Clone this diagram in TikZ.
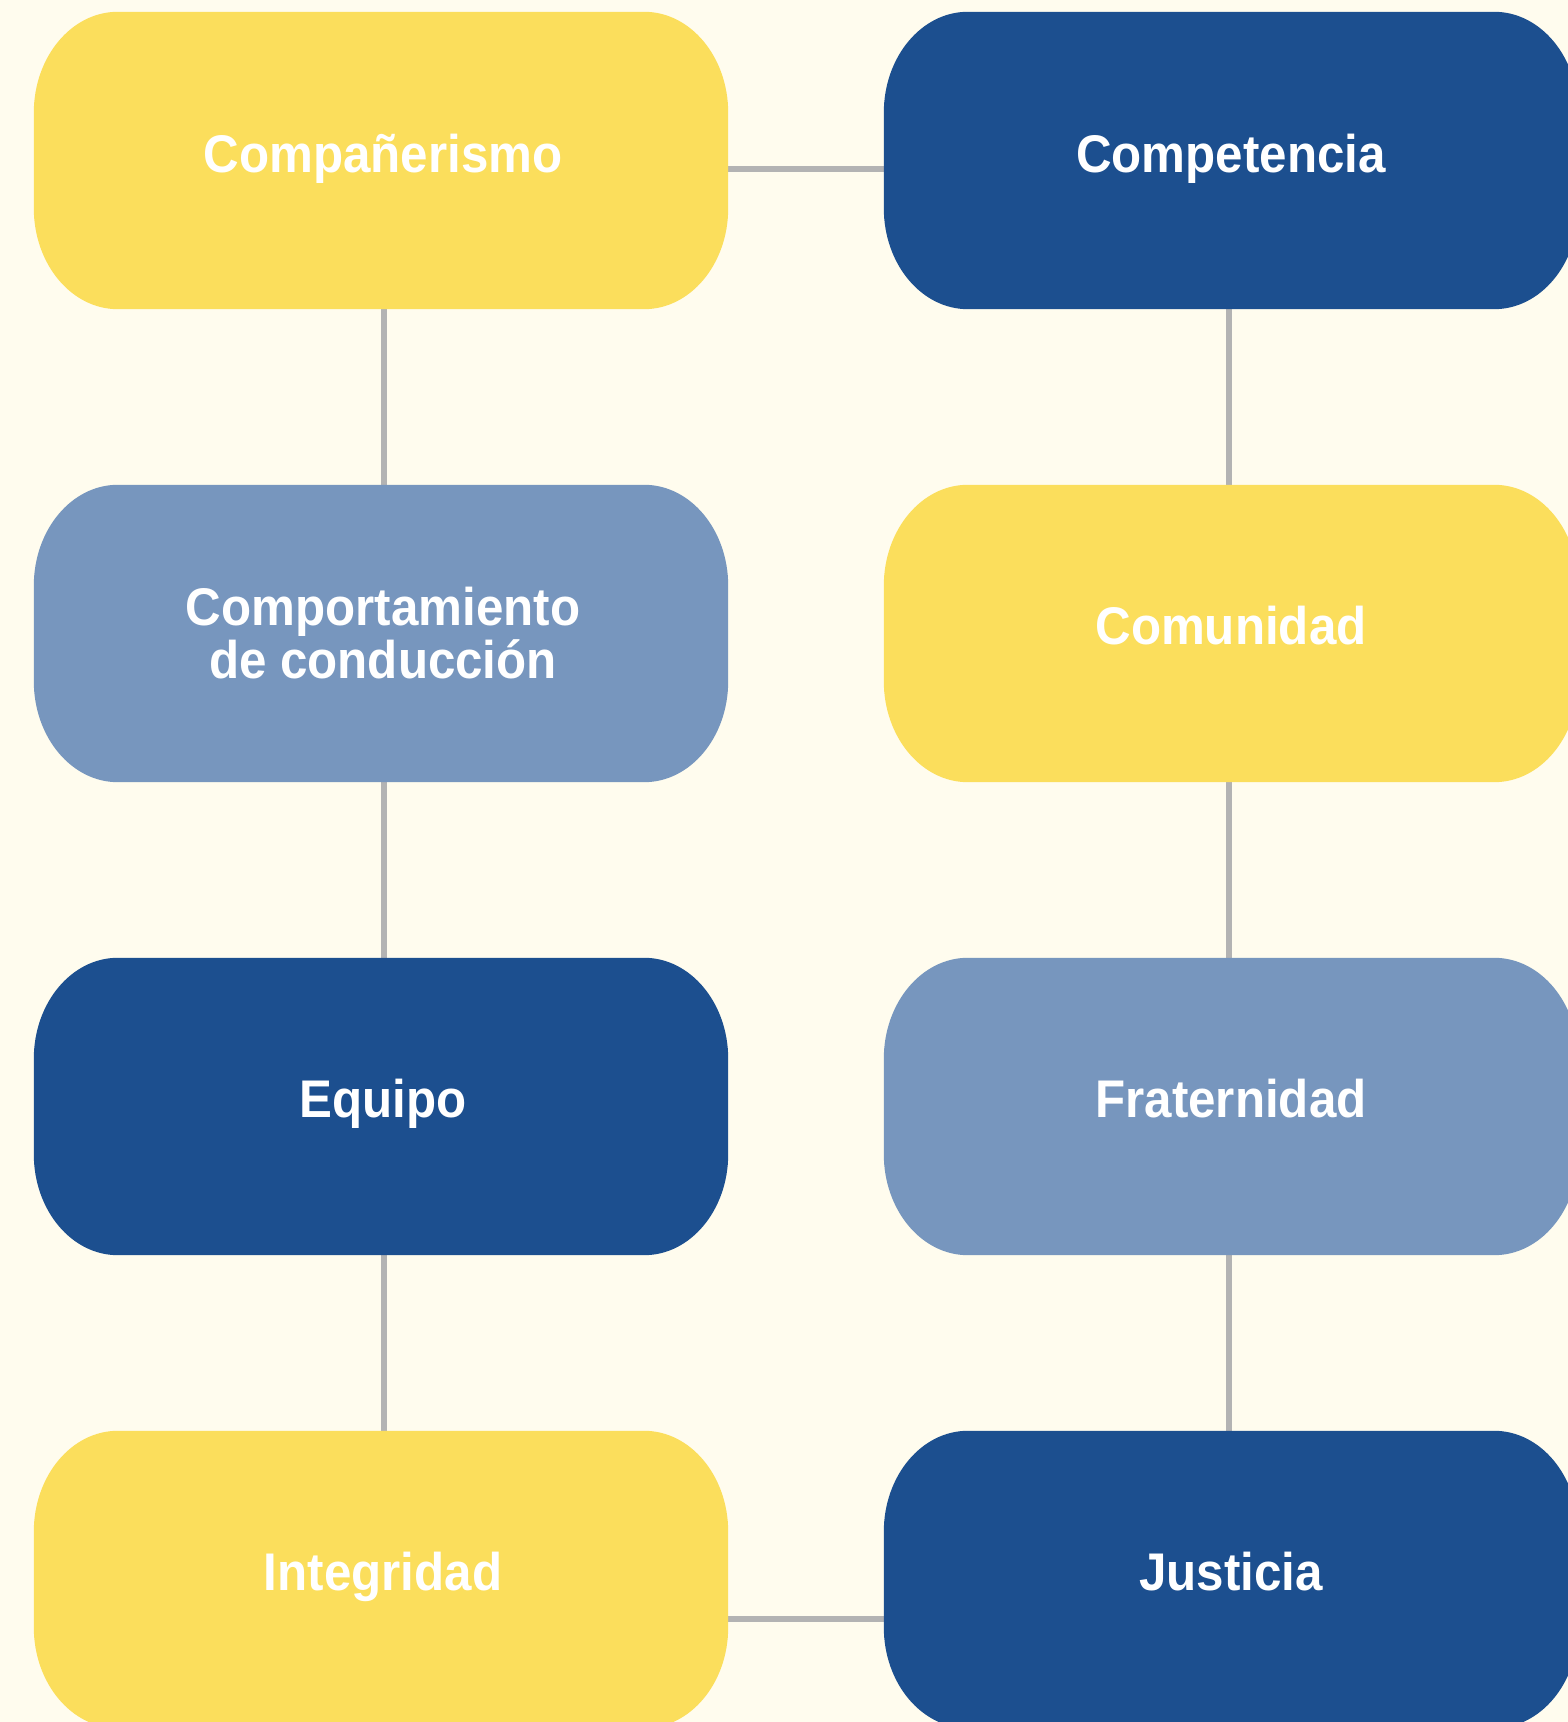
\documentclass[tikz,border=0pt]{standalone}
\usepackage{fontspec}
\setmainfont{Liberation Sans}[FakeStretch=0.93]
\definecolor{bgc}{HTML}{FFFCEE}
\definecolor{yel}{HTML}{FBDE5C}
\definecolor{dblue}{HTML}{1C4F8F}
\definecolor{lblue}{HTML}{7796BE}
\definecolor{linec}{HTML}{B3B3B3}
\tikzset{
  boxframe/.style={rectangle, draw=none, fill=none, inner sep=0pt, minimum width=694pt, minimum height=297pt},
  lbl/.style={text=white, font=\fontsize{53}{53}\selectfont\bfseries, inner sep=0pt, align=center, anchor=base},
  conn/.style={draw=linec, line width=6pt}
}
\newcommand{\pillfill}[2]{%
  \fill[#2] ([xshift=84pt]#1.north west) -- ([xshift=-84pt]#1.north east)
    arc[start angle=90,end angle=0,x radius=84pt,y radius=101pt]
    -- ([yshift=101pt]#1.south east)
    arc[start angle=0,end angle=-90,x radius=84pt,y radius=101pt]
    -- ([xshift=84pt]#1.south west)
    arc[start angle=270,end angle=180,x radius=84pt,y radius=101pt]
    -- ([yshift=-101pt]#1.north west)
    arc[start angle=180,end angle=90,x radius=84pt,y radius=101pt]
    -- cycle;}
\begin{document}
\begin{tikzpicture}[x=1pt,y=1pt]
\useasboundingbox (0,0) rectangle (1568,1722);
\fill[bgc] (0,0) rectangle (1568,1722);
\clip (0,0) rectangle (1568,1722);
% boxes (y measured from top: Y = 1722 - y)
\node[boxframe] (b1) at (381,1561.5) {};
\node[boxframe] (b2) at (1231,1561.5) {};
\node[boxframe] (b3) at (381,1088.5) {};
\node[boxframe] (b4) at (1231,1088.5) {};
\node[boxframe] (b5) at (381,615.5) {};
\node[boxframe] (b6) at (1231,615.5) {};
\node[boxframe] (b7) at (381,142.5) {};
\node[boxframe] (b8) at (1231,142.5) {};
% connectors
\draw[conn] ([yshift=-8.5pt]b1.east) -- ([yshift=-8.5pt]b2.west);
\draw[conn] ([xshift=3pt]b1.south) -- ([xshift=3pt]b3.north);
\draw[conn] ([xshift=3pt]b3.south) -- ([xshift=3pt]b5.north);
\draw[conn] ([xshift=3pt]b5.south) -- ([xshift=3pt]b7.north);
\draw[conn] ([xshift=-2pt]b2.south) -- ([xshift=-2pt]b4.north);
\draw[conn] ([xshift=-2pt]b4.south) -- ([xshift=-2pt]b6.north);
\draw[conn] ([xshift=-2pt]b6.south) -- ([xshift=-2pt]b8.north);
\draw[conn] ([yshift=-39.5pt]b7.east) -- ([yshift=-39.5pt]b8.west);
% fills
\pillfill{b1}{yel}
\pillfill{b2}{dblue}
\pillfill{b3}{lblue}
\pillfill{b4}{yel}
\pillfill{b5}{dblue}
\pillfill{b6}{lblue}
\pillfill{b7}{yel}
\pillfill{b8}{dblue}
% labels
\node[lbl] (t1) at ([xshift=2pt,yshift=-161pt]b1.north) {Compañerismo};
\node[lbl] (t2) at ([yshift=-161pt]b2.north) {Competencia};
\node[lbl] (t3) at ([xshift=2pt,yshift=-194pt]b3.north) {Comportamiento\\de conducción};
\node[lbl] (t4) at ([yshift=-160pt]b4.north) {Comunidad};
\node[lbl] (t5) at ([xshift=2pt,yshift=-160pt]b5.north) {Equipo};
\node[lbl] (t6) at ([yshift=-160pt]b6.north) {Fraternidad};
\node[lbl] (t7) at ([xshift=2pt,yshift=-160pt]b7.north) {Integridad};
\node[lbl] (t8) at ([yshift=-160pt]b8.north) {Justicia};
\end{tikzpicture}
\end{document}
